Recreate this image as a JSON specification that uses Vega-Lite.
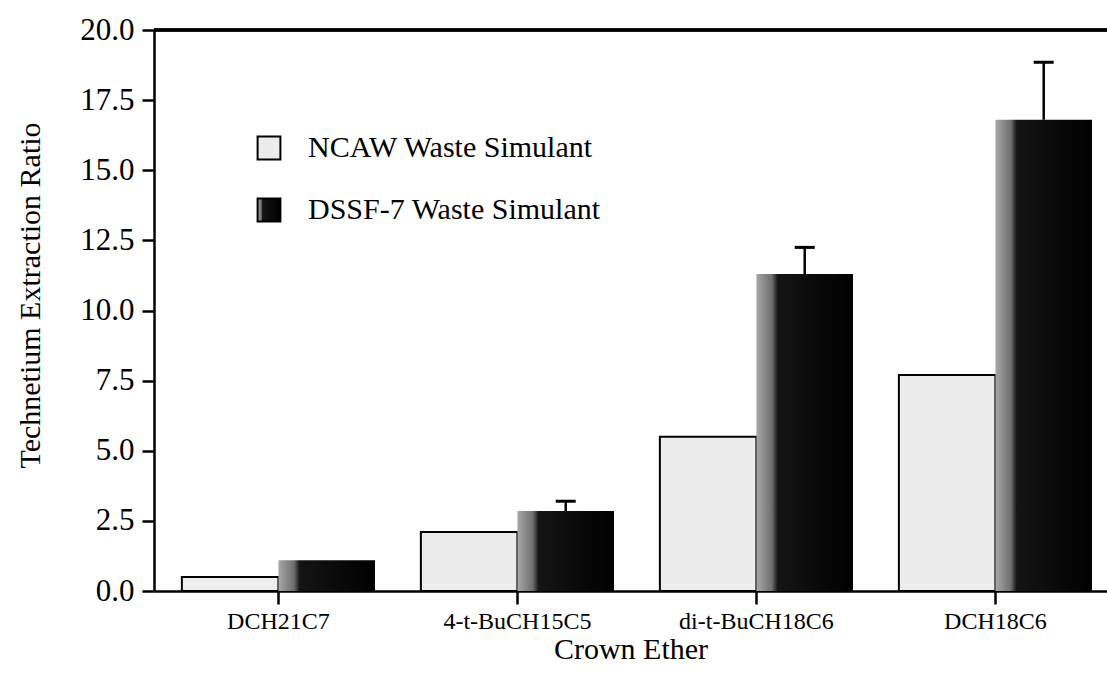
{
  "$schema": "https://vega.github.io/schema/vega-lite/v6.json",
  "width": 953,
  "height": 561,
  "autosize": {"type": "none"},
  "padding": {"left": 154, "top": 30, "right": 0, "bottom": 91},
  "background": "white",
  "config": {
    "view": {"stroke": null},
    "font": "Liberation Serif",
    "axis": {"grid": false, "domainColor": "black", "tickColor": "black", "labelColor": "black", "titleColor": "black", "labelFont": "Liberation Serif", "titleFont": "Liberation Serif", "titleFontWeight": "normal"}
  },
  "data": {
    "values": [
      {"ether": "DCH21C7", "series": "NCAW Waste Simulant", "value": 0.5},
      {"ether": "DCH21C7", "series": "DSSF-7 Waste Simulant", "value": 1.1},
      {"ether": "4-t-BuCH15C5", "series": "NCAW Waste Simulant", "value": 2.1},
      {"ether": "4-t-BuCH15C5", "series": "DSSF-7 Waste Simulant", "value": 2.85, "upper": 3.2},
      {"ether": "di-t-BuCH18C6", "series": "NCAW Waste Simulant", "value": 5.5},
      {"ether": "di-t-BuCH18C6", "series": "DSSF-7 Waste Simulant", "value": 11.3, "upper": 12.25},
      {"ether": "DCH18C6", "series": "NCAW Waste Simulant", "value": 7.7},
      {"ether": "DCH18C6", "series": "DSSF-7 Waste Simulant", "value": 16.8, "upper": 18.85}
    ]
  },
  "encoding": {
    "x": {
      "field": "ether", "type": "nominal",
      "scale": {"domain": ["DCH21C7", "4-t-BuCH15C5", "di-t-BuCH18C6", "DCH18C6"], "paddingInner": 0.192, "paddingOuter": 0.0897, "align": 0.65},
      "axis": {"title": "Crown Ether", "labelAngle": 0, "labelFontSize": 24, "labelPadding": 5, "tickSize": 13, "tickWidth": 2.5, "domainWidth": 2.5, "titleFontSize": 30, "titlePadding": 1}
    },
    "xOffset": {
      "field": "series", "type": "nominal",
      "scale": {"domain": ["NCAW Waste Simulant", "DSSF-7 Waste Simulant"], "paddingInner": 0, "paddingOuter": 0}
    },
    "y": {
      "field": "value", "type": "quantitative",
      "scale": {"domain": [0, 20], "nice": false},
      "axis": {"title": "Technetium Extraction Ratio", "values": [0, 2.5, 5, 7.5, 10, 12.5, 15, 17.5, 20], "format": ".1f", "labelFontSize": 31, "labelPadding": 8, "tickSize": 12, "tickWidth": 2.5, "domainWidth": 2.5, "titleFontSize": 30, "titlePadding": 34, "titleY": 265}
    }
  },
  "layer": [
    {
      "mark": {"type": "rule", "color": "black", "strokeWidth": 2.5},
      "encoding": {"y": {"datum": 20}, "x": null, "xOffset": null}
    },
    {
      "mark": {"type": "bar", "strokeWidth": 2, "opacity": 1},
      "encoding": {
        "color": {
          "field": "series", "type": "nominal",
          "scale": {
            "domain": ["NCAW Waste Simulant", "DSSF-7 Waste Simulant"],
            "range": ["#ececec", {"expr": "{gradient: 'linear', x1: 0, y1: 0, x2: 1, y2: 0, stops: [{offset: 0, color: '#a8a8a8'}, {offset: 0.16, color: '#6e6e6e'}, {offset: 0.22, color: '#141414'}, {offset: 1, color: '#000000'}]}"}]
          },
          "legend": {
            "title": null, "orient": "none", "legendX": 100, "legendY": 103, "padding": 0,
            "symbolType": "square", "symbolSize": 520, "symbolStrokeColor": "black", "symbolStrokeWidth": 2, "symbolOpacity": 1,
            "labelFontSize": 30, "labelFont": "Liberation Serif", "labelColor": "black", "labelOffset": 24, "rowPadding": 30, "labelLimit": 500
          }
        },
        "stroke": {
          "condition": {"test": "datum.series === 'NCAW Waste Simulant'", "value": "black"},
          "value": null
        }
      }
    },
    {
      "transform": [{"filter": "isValid(datum.upper)"}],
      "mark": {"type": "rule", "color": "black", "strokeWidth": 2.5},
      "encoding": {
        "y2": {"field": "upper"}
      }
    },
    {
      "transform": [{"filter": "isValid(datum.upper)"}],
      "mark": {"type": "tick", "color": "black", "size": 20, "thickness": 3, "opacity": 1},
      "encoding": {
        "y": {"field": "upper", "type": "quantitative"}
      }
    }
  ]
}
